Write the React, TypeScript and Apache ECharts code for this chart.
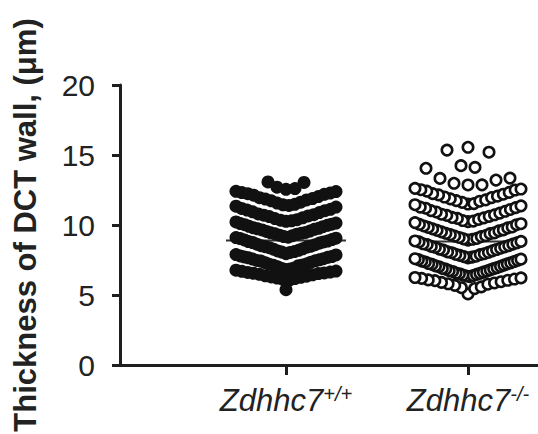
import React, { useEffect, useRef } from "react";
import * as echarts from "echarts";

const groups = ["Zdhhc7", "Zdhhc7"];
const superscripts = ["+/+", "-/-"];
const yTicks = [0, 5, 10, 15, 20];
const means = [8.9, 8.82];

const wildType = [
  5.38,
  6.04, 6.11, 6.17, 6.21, 6.26, 6.29, 6.34, 6.37, 6.44, 6.48,
  6.53, 6.55, 6.58, 6.61, 6.64, 6.69, 6.71, 6.77, 6.82, 6.85, 6.9, 6.93,
  7.01, 7.09, 7.12, 7.15, 7.19, 7.23, 7.31, 7.34, 7.42, 7.44, 7.47,
  7.51, 7.57, 7.59, 7.66, 7.69, 7.72, 7.75, 7.79, 7.86, 7.89, 7.95,
  8.04, 8.07, 8.1, 8.15, 8.19, 8.27, 8.3, 8.38, 8.42, 8.45, 8.49,
  8.52, 8.59, 8.63, 8.71, 8.75, 8.79, 8.82, 8.85, 8.93, 8.96,
  9.03, 9.06, 9.1, 9.13, 9.17, 9.24, 9.27, 9.34, 9.37, 9.41, 9.44, 9.47,
  9.54, 9.57, 9.65, 9.69, 9.73, 9.76, 9.8, 9.88, 9.91, 9.98,
  10.02, 10.06, 10.1, 10.14, 10.22, 10.26, 10.3, 10.34, 10.38, 10.46,
  10.51, 10.6, 10.65, 10.7, 10.74, 10.79, 10.89, 10.94,
  11.02, 11.07, 11.12, 11.18, 11.28, 11.34, 11.4, 11.44, 11.48,
  11.57, 11.63, 11.73, 11.79, 11.85, 11.89, 11.95,
  12.03, 12.13, 12.19, 12.24, 12.28, 12.32, 12.39, 12.41,
  12.55, 12.6, 12.7, 13.04, 13.08,
];

const knockOut = [
  5.08,
  5.46, 5.52, 5.58, 5.69, 5.77, 5.8, 5.86, 5.9, 5.95,
  6.03, 6.05, 6.08, 6.14, 6.19, 6.22, 6.25, 6.31, 6.36, 6.39, 6.42, 6.47,
  6.52, 6.55, 6.57, 6.63, 6.68, 6.71, 6.74, 6.79, 6.85, 6.88, 6.9, 6.96,
  7.02, 7.05, 7.08, 7.13, 7.19, 7.22, 7.25, 7.3, 7.36, 7.39, 7.42, 7.48,
  7.53, 7.56, 7.59, 7.65, 7.71, 7.74, 7.77, 7.83, 7.89, 7.91, 7.95,
  8.02, 8.05, 8.08, 8.15, 8.21, 8.25, 8.28, 8.34, 8.41, 8.44, 8.47,
  8.53, 8.6, 8.63, 8.66, 8.73, 8.79, 8.83, 8.86, 8.92, 8.98,
  9.01, 9.04, 9.11, 9.17, 9.21, 9.24, 9.31, 9.38, 9.41, 9.44,
  9.51, 9.58, 9.62, 9.65, 9.72, 9.79, 9.83, 9.86, 9.93,
  10.02, 10.05, 10.09, 10.17, 10.24, 10.28, 10.32, 10.4, 10.47,
  10.51, 10.54, 10.62, 10.69, 10.73, 10.77, 10.85, 10.93, 10.98,
  11.03, 11.11, 11.2, 11.24, 11.28, 11.37, 11.45, 11.5,
  11.53, 11.62, 11.7, 11.74, 11.79, 11.87, 11.96,
  12.0, 12.06, 12.15, 12.2, 12.24, 12.33, 12.42,
  12.5, 12.52, 12.57, 12.62, 12.86, 12.87, 12.98, 13.21,
  13.33, 13.35, 14.05, 14.12, 14.24, 15.2, 15.35, 15.55,
];

// layout constants
const GRID_LEFT = 120;
const GRID_TOP = 85;
const GRID_W = 418;
const GRID_H = 280;
const Y_MAX = 20;
const X_MIN = 0.0879;
const X_MAX = 2.3846;
const X_PX = GRID_W / (X_MAX - X_MIN);

// Prism-like column scatter: bin values into rows, spread each row centre-out
function columnLayout(
  values: number[],
  binStart: number,
  binSize: number,
  maxStep: number,
  halfWidth: number
): { off: number[]; order: number[] } {
  const rows = new Map<number, number[]>();
  values.forEach((v, i) => {
    const k = Math.floor((v - binStart) / binSize);
    if (!rows.has(k)) rows.set(k, []);
    rows.get(k)!.push(i);
  });
  const off = new Array(values.length).fill(0);
  const order: number[] = [];
  const keys = Array.from(rows.keys()).sort((a, b) => a - b);
  for (const k of keys) {
    const ids = rows.get(k)!.sort((a, b) => values[a] - values[b]);
    const n = ids.length;
    const step = n > 1 ? Math.min(maxStep, (2 * halfWidth) / (n - 1)) : 0;
    const odd = n % 2 === 1;
    ids.forEach((id, j) => {
      let pos: number;
      if (odd) {
        const r = Math.ceil(j / 2);
        pos = j === 0 ? 0 : (j % 2 === 1 ? 1 : -1) * r * step;
      } else {
        const r = Math.floor(j / 2) + 0.5;
        pos = (j % 2 === 0 ? 1 : -1) * r * step;
      }
      off[id] = pos;
      order.push(id);
    });
  }
  return { off, order };
}

const FONT = "'Liberation Sans', Arial, Helvetica, sans-serif";
const AXIS_COLOR = "#1e1e1e";

export default function App() {
  const ref = useRef<HTMLDivElement>(null);
  useEffect(() => {
    if (!ref.current) return;
    const chart = echarts.init(ref.current, null, { renderer: "svg" });
    const l1 = columnLayout(wildType, 5.65, 1.15, 9, 50);
    const l2 = columnLayout(knockOut, 5.0, 1.3, 14, 53);
    const data1 = l1.order.map((i) => [1 + l1.off[i] / X_PX, wildType[i]]);
    const data2 = l2.order.map((i) => [2 + l2.off[i] / X_PX, knockOut[i]]);
    const hw = [60 / X_PX, 59 / X_PX];
    chart.setOption({
      animation: false,
      backgroundColor: "#fff",
      grid: {
        left: GRID_LEFT,
        top: GRID_TOP,
        width: GRID_W,
        height: GRID_H,
        containLabel: false,
        outerBoundsMode: "none",
      },
      xAxis: {
        type: "value",
        min: X_MIN,
        max: X_MAX,
        splitLine: { show: false },
        axisLine: { show: true, onZero: false, lineStyle: { color: AXIS_COLOR, width: 3 } },
        axisTick: {
          show: true,
          customValues: [1, 2],
          length: 10,
          lineStyle: { color: AXIS_COLOR, width: 3 },
        },
        axisLabel: {
          show: true,
          customValues: [1, 2],
          margin: 19,
          formatter: (v: number) => {
            const k = Math.round(v) - 1;
            return "{i|" + groups[k] + "}{s|" + superscripts[k] + "}";
          },
          rich: {
            i: {
              fontSize: 31,
              fontStyle: "italic",
              fontFamily: FONT,
              color: "#222",
              lineHeight: 32,
            },
            s: {
              fontSize: 20,
              fontStyle: "italic",
              fontFamily: FONT,
              color: "#222",
              lineHeight: 20,
              verticalAlign: "top",
            },
          },
        },
      },
      yAxis: {
        type: "value",
        min: 0,
        max: Y_MAX,
        interval: 5,
        name: "Thickness of DCT wall, (\u03bcm)",
        nameLocation: "middle",
        nameRotate: 90,
        nameGap: 79,
        nameTextStyle: {
          fontSize: 31,
          fontWeight: "bold",
          fontFamily: FONT,
          color: "#222",
        },
        splitLine: { show: false },
        axisLine: { show: true, onZero: false, lineStyle: { color: AXIS_COLOR, width: 3 } },
        axisTick: { show: true, length: 8, lineStyle: { color: AXIS_COLOR, width: 3 } },
        axisLabel: {
          margin: 25,
          fontSize: 30,
          fontFamily: FONT,
          color: "#222",
          formatter: (v: number) => (yTicks.includes(v) ? String(v) : ""),
        },
      },
      series: [
        {
          type: "line",
          data: [
            [1 - hw[0], means[0]],
            [1 + hw[0], means[0]],
          ],
          symbol: "none",
          lineStyle: { color: "#333", width: 2 },
          z: 1,
          silent: true,
        },
        {
          type: "line",
          data: [
            [2 - hw[1], means[1]],
            [2 + hw[1], means[1]],
          ],
          symbol: "none",
          lineStyle: { color: "#333", width: 2 },
          z: 1,
          silent: true,
        },
        {
          type: "scatter",
          data: data1,
          symbol: "circle",
          symbolSize: 13,
          itemStyle: { color: "#111", opacity: 1 },
          z: 2,
        },
        {
          type: "scatter",
          data: data2,
          symbol: "circle",
          symbolSize: 10.4,
          itemStyle: { color: "#fff", borderColor: "#111", borderWidth: 2.6, opacity: 1 },
          z: 3,
        },
      ],
    });
    return () => chart.dispose();
  }, []);
  return (
    <div
      ref={ref}
      style={{ position: "fixed", left: 0, top: 0, width: 538, height: 434 }}
    />
  );
}
